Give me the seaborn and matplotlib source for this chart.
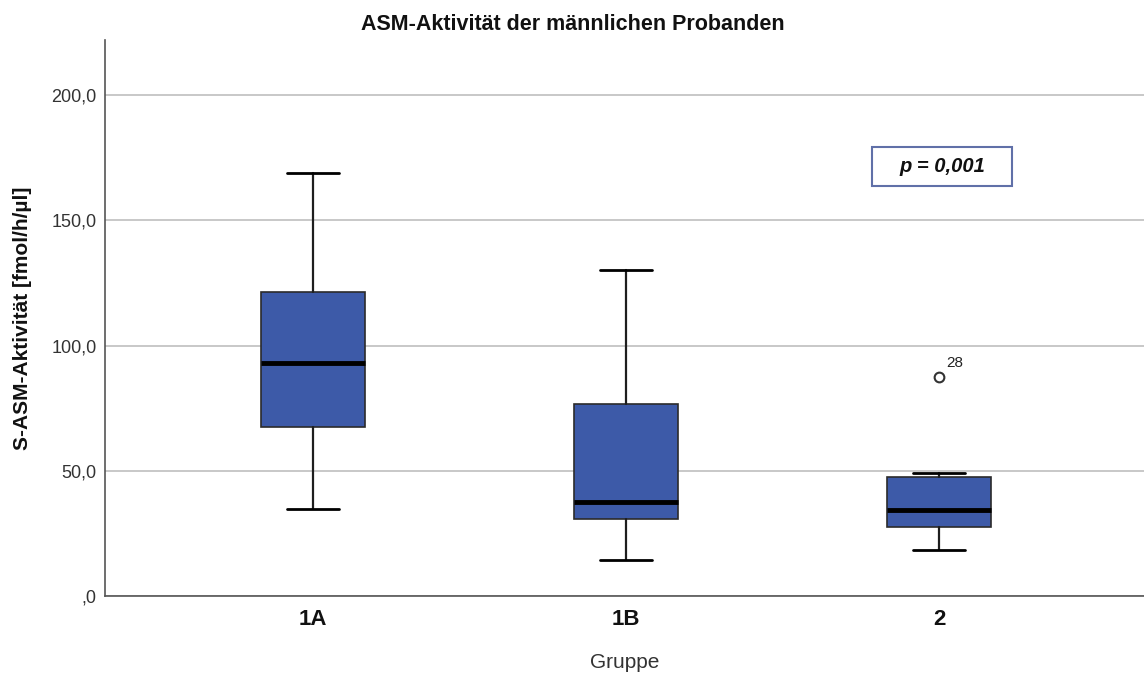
import matplotlib
matplotlib.use("Agg")
import matplotlib.pyplot as plt
from matplotlib.patches import Rectangle
import seaborn as sns

# Five-number summaries per group (fmol/h/µl)
groups = ["1A", "1B", "2"]
whisker_low = [34.7, 14.4, 18.4]
q1 = [67.5, 30.7, 27.5]
median = [93.0, 37.5, 34.3]
q3 = [121.4, 76.6, 47.5]
whisker_high = [168.9, 130.1, 49.1]
outliers = [[], [], [87.4]]
outlier_ids = [[], [], ["28"]]

yticks = [0, 50, 100, 150, 200]
ytick_labels = [",0", "50,0", "100,0", "150,0", "200,0"]
p_text = "p = 0,001"

sns.set_theme(style="white")
plt.rcParams["font.family"] = ["Liberation Sans", "DejaVu Sans"]

fig = plt.figure(figsize=(11.44, 6.73), dpi=100)
ax = fig.add_axes([0.0918, 0.1144, 0.9082, 0.8262])

stats = []
for i, g in enumerate(groups):
    stats.append(dict(label=g, whislo=whisker_low[i], q1=q1[i], med=median[i],
                      q3=q3[i], whishi=whisker_high[i], fliers=outliers[i]))

ax.bxp(stats, positions=range(len(groups)), widths=0.33, patch_artist=True,
       boxprops=dict(facecolor="#3D5AA8", edgecolor="#2B2B2B", linewidth=1.2),
       medianprops=dict(color="black", linewidth=3.5),
       whiskerprops=dict(color="#1E1E1E", linewidth=1.6),
       capprops=dict(color="black", linewidth=2.0),
       capwidths=0.165,
       flierprops=dict(marker="o", markerfacecolor="white", markeredgecolor="#333333",
                       markersize=7, markeredgewidth=1.5),
       zorder=3)

for i, ids in enumerate(outlier_ids):
    for val, lab in zip(outliers[i], ids):
        ax.annotate(lab, (i, val), xytext=(5, 5), textcoords="offset points",
                    fontsize=11, color="#222222", ha="left", va="bottom")

ax.set_xlim(-0.665, 2.655)
ax.set_ylim(0, 222)
ax.set_yticks(yticks)
ax.set_yticklabels(ytick_labels, fontsize=13, color="#333333")
ax.set_xticks(range(len(groups)))
ax.set_xticklabels(groups, fontsize=16, fontweight="bold", color="#111111")
ax.tick_params(axis="x", length=0, pad=9)
ax.tick_params(axis="y", length=0, pad=6)

ax.yaxis.grid(True, color="#C8C8C8", linewidth=1.4, zorder=0)
ax.set_axisbelow(True)
for side in ["top", "right"]:
    ax.spines[side].set_visible(False)
for side in ["left", "bottom"]:
    ax.spines[side].set_color("#555555")
    ax.spines[side].set_linewidth(1.2)

ax.set_ylabel("S-ASM-Aktivität [fmol/h/µl]", fontsize=15, fontweight="bold",
              color="#111111", va="center")
ax.yaxis.set_label_coords(-0.079, 0.5)
ax.set_xlabel("Gruppe", fontsize=15, color="#333333", va="center")
ax.xaxis.set_label_coords(0.5, -0.119)
fig.text(0.501, 0.964, "ASM-Aktivität der männlichen Probanden", ha="center",
         va="center", fontsize=15.5, fontweight="bold", color="#111111")

# framed significance note
ax.add_patch(Rectangle((0.738, 0.737), 0.135, 0.071, transform=ax.transAxes,
                       facecolor="white", edgecolor="#6070A8", linewidth=1.5,
                       zorder=4))
ax.text(0.8055, 0.772, p_text, transform=ax.transAxes, ha="center", va="center",
        fontsize=14.5, fontweight="bold", fontstyle="italic", color="#111111",
        zorder=5)

fig.savefig("out.png", dpi=100)
